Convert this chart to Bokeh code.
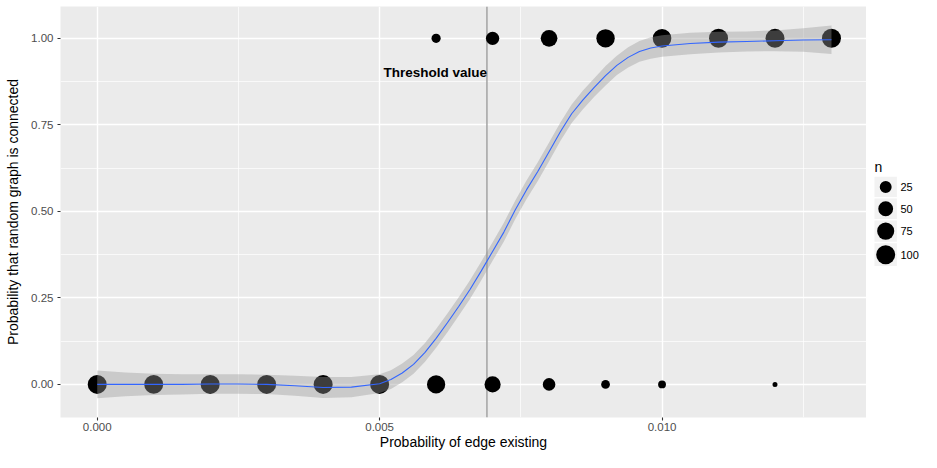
import math
from bokeh.plotting import figure
from bokeh.models import (Range1d, FixedTicker, ColumnDataSource, Span,
                          NumeralTickFormatter)
from bokeh.layouts import row
from bokeh.embed import file_html
from bokeh.resources import INLINE
from bokeh.core.properties import value

# ---------------- data ----------------
edge_prob = [0.000, 0.001, 0.002, 0.003, 0.004, 0.005, 0.006,
             0.007, 0.008, 0.009, 0.010, 0.011, 0.012, 0.013]
n_not_connected = [100, 100, 100, 100, 100, 100, 90, 64, 30, 8, 5, 0, 1, 0]
n_connected = [0, 0, 0, 0, 0, 0, 10, 36, 70, 92, 95, 100, 99, 100]

smooth_x = [0.0000, 0.0005, 0.0010, 0.0015, 0.0020, 0.0025, 0.0030, 0.0035,
            0.0040, 0.0045, 0.0050, 0.0052, 0.0054, 0.0056, 0.0058, 0.0060,
            0.0062, 0.0064, 0.0066, 0.0068, 0.0070, 0.0072, 0.0074, 0.0076,
            0.0078, 0.0080, 0.0082, 0.0084, 0.0086, 0.0088, 0.0090, 0.0092,
            0.0094, 0.0096, 0.0098, 0.0100, 0.0105, 0.0110, 0.0115, 0.0120,
            0.0125, 0.0130]
smooth_y = [0.000, 0.000, 0.000, 0.000, 0.001, 0.001, 0.000, -0.004,
            -0.009, -0.008, 0.002, 0.014, 0.033, 0.058, 0.092, 0.133,
            0.178, 0.225, 0.274, 0.328, 0.384, 0.440, 0.504, 0.562,
            0.615, 0.672, 0.730, 0.782, 0.822, 0.858, 0.892, 0.922,
            0.945, 0.962, 0.972, 0.978, 0.985, 0.989, 0.991, 0.993,
            0.995, 0.996]
smooth_se = [0.040, 0.034, 0.031, 0.029, 0.028, 0.028, 0.028, 0.029,
             0.030, 0.029, 0.027, 0.027, 0.027, 0.027, 0.027, 0.027,
             0.027, 0.027, 0.027, 0.027, 0.027, 0.027, 0.027, 0.027,
             0.027, 0.027, 0.027, 0.027, 0.027, 0.027, 0.028, 0.028,
             0.029, 0.030, 0.031, 0.031, 0.031, 0.030, 0.029, 0.030,
             0.034, 0.041]

threshold = 0.0069
threshold_label = "Threshold value"
threshold_label_y = 0.90

x_ticks = [0.000, 0.005, 0.010]
x_minor_ticks = [0.0025, 0.0075, 0.0125]
y_ticks = [0.00, 0.25, 0.50, 0.75, 1.00]
y_minor_ticks = [0.125, 0.375, 0.625, 0.875]
legend_n = [25, 50, 75, 100]

x_title = "Probability of edge existing"
y_title = "Probability that random graph is connected"
legend_title = "n"

FONT = "Liberation Sans"

# ---------------- size scale (area scale like ggplot) ----------------
all_n = [v for v in n_not_connected + n_connected if v > 0]
n_min, n_max = min(all_n), max(all_n)
D_MIN, D_MAX = 5.0, 19.0


def diam(n):
    return D_MIN + (D_MAX - D_MIN) * math.sqrt((n - n_min) / (n_max - n_min))


px, py, ps = [], [], []
for x, n0, n1 in zip(edge_prob, n_not_connected, n_connected):
    if n0 > 0:
        px.append(x); py.append(0.0); ps.append(diam(n0))
    if n1 > 0:
        px.append(x); py.append(1.0); ps.append(diam(n1))
pts = ColumnDataSource(dict(x=px, y=py, s=ps))

band = ColumnDataSource(dict(
    x=smooth_x, y=smooth_y,
    lo=[a - b for a, b in zip(smooth_y, smooth_se)],
    hi=[a + b for a, b in zip(smooth_y, smooth_se)],
))

# ---------------- main panel ----------------
H = 452
FL, FT, FB = 60, 6, 420        # frame box of the panel, in figure pixels
MAIN_W = 866
LEG_W = 921 - MAIN_W

p = figure(width=MAIN_W, height=H,
           x_range=Range1d(-0.00065, 0.01362),
           y_range=Range1d(-0.0957, 1.092),
           output_backend="svg", toolbar_location=None,
           min_border_left=FL, min_border_right=0,
           min_border_top=FT, min_border_bottom=H - FB)
p.background_fill_color = "#EBEBEB"
p.border_fill_color = "white"
p.outline_line_color = None

p.xaxis.ticker = FixedTicker(ticks=x_ticks, minor_ticks=x_minor_ticks)
p.yaxis.ticker = FixedTicker(ticks=y_ticks, minor_ticks=y_minor_ticks)
p.xaxis.formatter = NumeralTickFormatter(format="0.000")
p.yaxis.formatter = NumeralTickFormatter(format="0.00")

for ax in (p.xaxis, p.yaxis):
    ax.axis_line_color = None
    ax.major_tick_line_color = "#333333"
    ax.major_tick_line_width = 1.1
    ax.major_tick_out = 3
    ax.major_tick_in = 0
    ax.minor_tick_out = 0
    ax.minor_tick_in = 0
    ax.major_label_text_font = FONT
    ax.major_label_text_font_size = "11.5px"
    ax.major_label_text_color = "#4D4D4D"
    ax.axis_label_text_font = FONT
    ax.axis_label_text_font_size = "14px"
    ax.axis_label_text_font_style = "normal"
    ax.axis_label_text_color = "black"

p.xaxis.axis_label = x_title
p.yaxis.axis_label = y_title
p.xaxis.major_label_standoff = 2
p.xaxis.axis_label_standoff = 0
p.yaxis.major_label_standoff = 4
p.yaxis.axis_label_standoff = 7

for g in (p.xgrid, p.ygrid):
    g.grid_line_color = "white"
    g.grid_line_width = 1.4
    g.minor_grid_line_color = "white"
    g.minor_grid_line_width = 0.7

vline = Span(location=threshold, dimension="height", line_color="#A3A3A3",
             line_width=1.5, level="underlay")
p.add_layout(vline)

p.scatter(x="x", y="y", size="s", source=pts, marker="circle",
          fill_color="black", line_color=None)
p.varea(x="x", y1="lo", y2="hi", source=band, fill_color="#999999",
        fill_alpha=0.4)
p.line(x="x", y="y", source=band, line_color="#3366FF", line_width=1.1)
p.text(x=[threshold], y=[threshold_label_y], text=[threshold_label],
       text_align="right", text_baseline="middle",
       text_font=value(FONT), text_font_style="bold",
       text_font_size="13.5px", text_color="black")

# ---------------- size legend: a pixel-space companion figure -------------
# (its frame is aligned to the panel's frame by the row layout, so the
#  y range maps figure pixels FT..FB)
leg = figure(width=LEG_W, height=H, x_range=Range1d(0, LEG_W),
             y_range=Range1d(FB, FT), output_backend="svg",
             toolbar_location=None, x_axis_type=None, y_axis_type=None,
             min_border_left=0, min_border_right=0, min_border_top=FT,
             min_border_bottom=H - FB)
leg.outline_line_color = None
leg.background_fill_color = "white"
leg.border_fill_color = "white"

key_heights = [20.5, 20.5, 21.5, 23.0]
key_gap = 1.5
key_left, key_w = 8.0, 22.4
label_x = 34.0
top = 177.5
centers = []
for h in key_heights:
    centers.append(top + h / 2)
    top += h + key_gap
key_cx = key_left + key_w / 2
leg.rect(x=[key_cx] * len(legend_n), y=centers, width=key_w,
         height=key_heights, fill_color="#F2F2F2", line_color=None)
leg.scatter(x=[key_cx] * len(legend_n), y=centers,
            size=[diam(n) for n in legend_n], marker="circle",
            fill_color="black", line_color=None)
leg.text(x=[label_x] * len(legend_n), y=centers,
         text=[str(n) for n in legend_n],
         text_align="left", text_baseline="middle", text_font=value(FONT),
         text_font_size="11px", text_color="black")
leg.text(x=[key_left], y=[167.5], text=[legend_title], text_align="left",
         text_baseline="middle", text_font=value(FONT),
         text_font_size="14px", text_color="black")

layout = row(p, leg)
open("out.html", "w").write(file_html(layout, INLINE))
